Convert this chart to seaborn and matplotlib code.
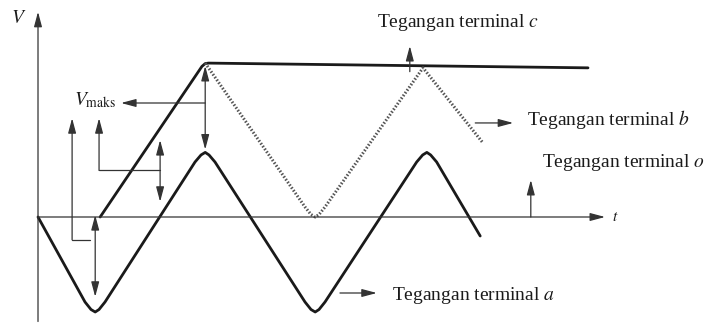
import numpy as np
import pandas as pd
import matplotlib
matplotlib.use("Agg")
import matplotlib.pyplot as plt
import seaborn as sns

sns.set_theme(style="white")
plt.rcParams.update({
    "font.family": ["Liberation Serif", "DejaVu Serif"],
    "mathtext.fontset": "stix",
})

# waveforms (t in quarter-periods, V relative to V_maks)
t_a = [0.0, 0.855, 0.964, 1.04, 1.109, 1.218,
       2.855, 2.964, 3.04, 3.109, 3.218,
       4.855, 4.964, 5.04, 5.109, 5.218,
       6.885, 6.994, 7.07, 7.139, 7.248, 8.04]
v_a = [0.0, -0.895, -0.974, -1.0, -0.974, -0.895,
       0.579, 0.653, 0.68, 0.653, 0.579,
       -0.895, -0.974, -1.0, -0.974, -0.895,
       0.579, 0.653, 0.68, 0.653, 0.579, -0.20]

t_c = [1.13, 2.98, 3.04, 3.10, 10.0]
v_c = [0.0, 1.585, 1.615, 1.62, 1.57]

t_b = [3.04, 4.855, 4.964, 5.04, 5.109, 5.218, 7.0, 8.09]
v_b = [1.62, 0.105, 0.026, 0.0, 0.026, 0.105, 1.57, 0.78]

labels = ["Tegangan terminal $c$", "Tegangan terminal $b$",
          "Tegangan terminal $o$", "Tegangan terminal $a$"]
label_pos = [(6.16, 2.05), (8.89, 1.03), (9.16, 0.57), (6.44, -0.83)]

df_a = pd.DataFrame({"t": t_a, "V": v_a})
df_b = pd.DataFrame({"t": t_b, "V": v_b})
df_c = pd.DataFrame({"t": t_c, "V": v_c})

fig = plt.figure(figsize=(7.04, 3.34), dpi=100)
ax = fig.add_axes([0, 0, 1, 1])
ax.set_xlim(-0.691, 12.109)
ax.set_ylim(-1.2316, 2.2842)
ax.axis("off")

sns.lineplot(data=df_a, x="t", y="V", ax=ax, color="#1a1a1a", lw=2.0,
             estimator=None, sort=False)
sns.lineplot(data=df_c, x="t", y="V", ax=ax, color="#1a1a1a", lw=2.0,
             estimator=None, sort=False)
sns.lineplot(data=df_b, x="t", y="V", ax=ax, color="#555555", lw=2.2,
             estimator=None, sort=False, linestyle=(0, (0.5, 0.6)))

def arrow(p0, p1, style="-|>"):
    ax.annotate("", xy=p1, xytext=p0,
                arrowprops=dict(arrowstyle=style + ",head_length=0.75,head_width=0.2",
                                color="#333333", lw=0.9, shrinkA=0, shrinkB=0))

# axes
arrow((0, -1.1), (0, 2.16))
arrow((0, 0), (10.31, 0))
ax.text(-0.345, 2.09, "$V$", fontsize=14, ha="center", va="center", color="#1a1a1a")
ax.text(10.49, -0.01, "$t$", fontsize=11, ha="center", va="center", color="#1a1a1a")

# V_maks annotation
ax.text(0.65, 1.23, r"$V_{\mathrm{maks}}$", fontsize=14, ha="left", va="center", color="#1a1a1a")
arrow((3.04, 1.20), (1.51, 1.20))
arrow((3.04, 1.59), (3.04, 0.71), "<|-|>")
arrow((2.22, 0.81), (2.22, 0.16), "<|-|>")
ax.plot([2.22, 1.11], [0.49, 0.49], color="#333333", lw=0.9)
arrow((1.11, 0.49), (1.11, 1.04))
ax.plot([0.95, 0.62], [-0.24, -0.24], color="#333333", lw=0.9)
arrow((0.62, -0.24), (0.62, 1.04))
arrow((1.04, 0.02), (1.04, -0.84), "<|-|>")

# terminal labels
arrow((6.76, 1.53), (6.76, 1.80))
arrow((7.95, 0.99), (8.64, 0.99))
arrow((8.96, 0.0), (8.96, 0.39))
arrow((5.49, -0.80), (6.16, -0.80))
for txt, (x, y) in zip(labels, label_pos):
    ax.text(x, y, txt, fontsize=14, ha="left", va="center", color="#1a1a1a")

fig.savefig("out.png", dpi=100)
